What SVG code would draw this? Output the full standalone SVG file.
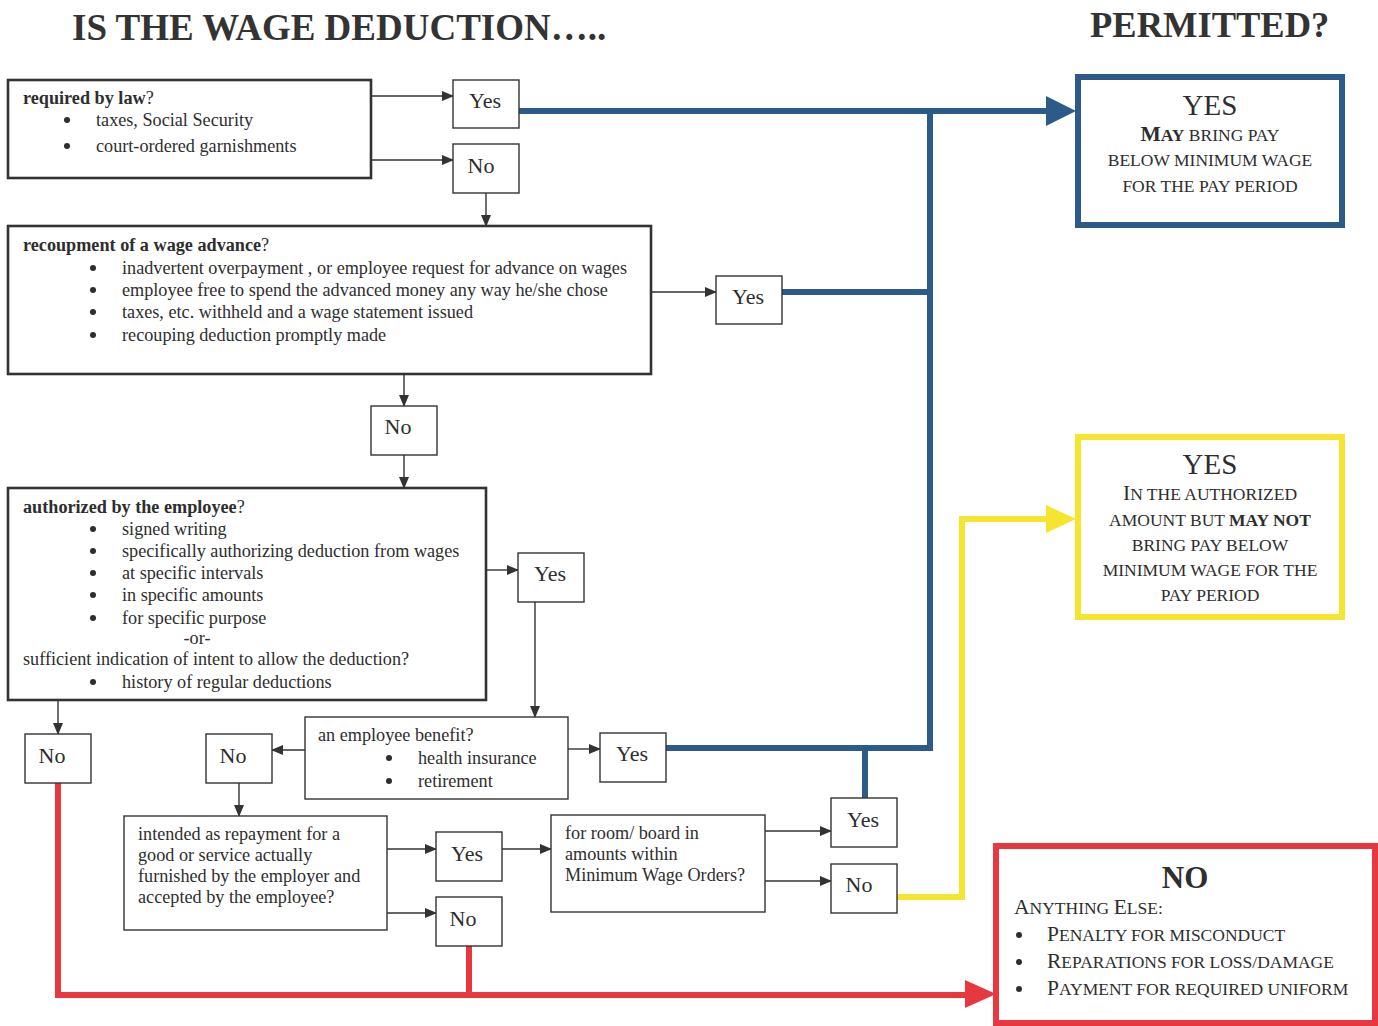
<svg xmlns="http://www.w3.org/2000/svg" width="1378" height="1026" viewBox="0 0 1378 1026">
<defs>
<style>
text{font-family:"Liberation Serif","Times New Roman",serif;fill:#2e2e2e}
.t{font-size:18.2px}
.b{font-weight:bold}
.yn{font-size:22px;text-anchor:middle}
.title{font-size:36.5px;font-weight:bold;fill:#333}
.box{fill:#fff;stroke:#333;stroke-width:2.6}
.sbox{fill:#fff;stroke:#333;stroke-width:1.4}
.con{fill:none;stroke:#333;stroke-width:1.4}
.blue{fill:none;stroke:#2c5b8a;stroke-width:6}
.yel{fill:none;stroke:#f6e52e;stroke-width:6}
.red{fill:none;stroke:#e8383f;stroke-width:6}
.sc{font-size:17.5px}
.mid{text-anchor:middle}
.cap{font-size:21.5px}
.big{font-size:29px;text-anchor:middle}
.dot{fill:#2e2e2e}
</style>
<marker id="ah" markerWidth="12" markerHeight="10" refX="11" refY="5" orient="auto" markerUnits="userSpaceOnUse">
<path d="M0,0 L12,5 L0,10 Z" fill="#333"/>
</marker>
</defs>
<rect width="1378" height="1026" fill="#fff"/>
<text class="title" x="72" y="40" style="font-size:37px">IS THE WAGE DEDUCTION…..</text>
<text class="title" x="1090" y="37">PERMITTED?</text>

<g id="connectors">
<path class="con" d="M371,96 H453" marker-end="url(#ah)"/>
<path class="con" d="M371,160 H453" marker-end="url(#ah)"/>
<path class="con" d="M486,193 V226" marker-end="url(#ah)"/>
<path class="con" d="M651,292 H716" marker-end="url(#ah)"/>
<path class="con" d="M404,374 V406" marker-end="url(#ah)"/>
<path class="con" d="M404,455 V488" marker-end="url(#ah)"/>
<path class="con" d="M486,570 H518" marker-end="url(#ah)"/>
<path class="con" d="M535,602 V717" marker-end="url(#ah)"/>
<path class="con" d="M58,700 V734" marker-end="url(#ah)"/>
<path class="con" d="M568,749 H600" marker-end="url(#ah)"/>
<path class="con" d="M305,750 H272" marker-end="url(#ah)"/>
<path class="con" d="M239,783 V816" marker-end="url(#ah)"/>
<path class="con" d="M387,849 H436" marker-end="url(#ah)"/>
<path class="con" d="M387,913 H436" marker-end="url(#ah)"/>
<path class="con" d="M502,849 H551" marker-end="url(#ah)"/>
<path class="con" d="M765,831 H831" marker-end="url(#ah)"/>
<path class="con" d="M765,881 H831" marker-end="url(#ah)"/>
<path class="blue" d="M519,111 H1050"/>
<polygon points="1046,96 1076,111 1046,126" fill="#2c5b8a"/>
<path class="blue" d="M930,111 V748"/>
<path class="blue" d="M782,292 H930"/>
<path class="blue" d="M666,748 H933"/>
<path class="blue" d="M865,798 V748"/>
<path class="yel" d="M897,897 H962 V519 H1050"/>
<polygon points="1046,505 1076,519 1046,533" fill="#f6e52e"/>
<path class="red" d="M58,783 V995 H968"/>
<path class="red" d="M469,946 V995"/>
<polygon points="965,980 996,994 965,1008" fill="#e8383f"/>
</g>

<g id="law">
<rect class="box" x="8" y="80" width="363" height="98"/>
<text class="t" x="23" y="104"><tspan class="b">required by law</tspan>?</text>
<circle class="dot" cx="67" cy="120" r="3"/><text class="t" x="96" y="126">taxes, Social Security</text>
<circle class="dot" cx="67" cy="146" r="3"/><text class="t" x="96" y="152">court-ordered garnishments</text>
</g>
<g id="yes1"><rect class="sbox" x="453" y="80" width="66" height="48"/><text class="yn" x="485" y="108">Yes</text></g>
<g id="no1"><rect class="sbox" x="453" y="144" width="66" height="49"/><text class="yn" x="481" y="173">No</text></g>

<g id="advance">
<rect class="box" x="8" y="226" width="643" height="148"/>
<text class="t" x="23" y="251"><tspan class="b">recoupment of a wage advance</tspan>?</text>
<circle class="dot" cx="93" cy="268" r="3"/><text class="t" x="122" y="274">inadvertent overpayment , or employee request for advance on wages</text>
<circle class="dot" cx="93" cy="290" r="3"/><text class="t" x="122" y="296">employee free to spend the advanced money any way he/she chose</text>
<circle class="dot" cx="93" cy="312" r="3"/><text class="t" x="122" y="318">taxes, etc. withheld and a wage statement issued</text>
<circle class="dot" cx="93" cy="335" r="3"/><text class="t" x="122" y="341">recouping deduction promptly made</text>
</g>
<g id="yes2"><rect class="sbox" x="716" y="276" width="66" height="48"/><text class="yn" x="748" y="304">Yes</text></g>
<g id="no2"><rect class="sbox" x="371" y="406" width="66" height="49"/><text class="yn" x="398" y="434">No</text></g>

<g id="authorized">
<rect class="box" x="8" y="488" width="478" height="212"/>
<text class="t" x="23" y="513"><tspan class="b">authorized by the employee</tspan>?</text>
<circle class="dot" cx="93" cy="529" r="3"/><text class="t" x="122" y="535">signed writing</text>
<circle class="dot" cx="93" cy="551" r="3"/><text class="t" x="122" y="557">specifically authorizing deduction from wages</text>
<circle class="dot" cx="93" cy="573" r="3"/><text class="t" x="122" y="579">at specific intervals</text>
<circle class="dot" cx="93" cy="595" r="3"/><text class="t" x="122" y="601">in specific amounts</text>
<circle class="dot" cx="93" cy="618" r="3"/><text class="t" x="122" y="624">for specific purpose</text>
<text class="t mid" x="197" y="644">-or-</text>
<text class="t" x="23" y="665">sufficient indication of intent to allow the deduction?</text>
<circle class="dot" cx="93" cy="682" r="3"/><text class="t" x="122" y="688">history of regular deductions</text>
</g>
<g id="yes3"><rect class="sbox" x="518" y="553" width="66" height="49"/><text class="yn" x="550" y="581">Yes</text></g>
<g id="no3"><rect class="sbox" x="25" y="734" width="66" height="49"/><text class="yn" x="52" y="763">No</text></g>

<g id="benefit">
<rect class="sbox" x="305" y="717" width="263" height="82"/>
<text class="t" x="318" y="741">an employee benefit?</text>
<circle class="dot" cx="389" cy="758" r="3"/><text class="t" x="418" y="764">health insurance</text>
<circle class="dot" cx="389" cy="781" r="3"/><text class="t" x="418" y="787">retirement</text>
</g>
<g id="yes4"><rect class="sbox" x="600" y="733" width="66" height="49"/><text class="yn" x="632" y="761">Yes</text></g>
<g id="no4"><rect class="sbox" x="206" y="734" width="66" height="49"/><text class="yn" x="233" y="763">No</text></g>

<g id="repayment">
<rect class="sbox" x="124" y="816" width="263" height="114"/>
<text class="t" x="138" y="840">intended as repayment for a</text>
<text class="t" x="138" y="861">good or service actually</text>
<text class="t" x="138" y="882">furnished by the employer and</text>
<text class="t" x="138" y="903">accepted by the employee?</text>
</g>
<g id="yes5"><rect class="sbox" x="436" y="832" width="66" height="49"/><text class="yn" x="467" y="861">Yes</text></g>
<g id="no5"><rect class="sbox" x="436" y="897" width="66" height="49"/><text class="yn" x="463" y="926">No</text></g>

<g id="roomboard">
<rect class="sbox" x="551" y="815" width="214" height="97"/>
<text class="t" x="565" y="839">for room/ board in</text>
<text class="t" x="565" y="860">amounts within</text>
<text class="t" x="565" y="881">Minimum Wage Orders?</text>
</g>
<g id="yes6"><rect class="sbox" x="831" y="798" width="66" height="49"/><text class="yn" x="863" y="827">Yes</text></g>
<g id="no6"><rect class="sbox" x="831" y="864" width="66" height="49"/><text class="yn" x="859" y="892">No</text></g>

<g id="result-yes">
<rect x="1078" y="77" width="264" height="148" fill="#fff" stroke="#2c5b8a" stroke-width="6"/>
<text class="big" x="1210" y="115">YES</text>
<text class="sc mid" x="1210" y="141"><tspan class="b cap">M</tspan><tspan class="b">AY</tspan> BRING PAY</text>
<text class="sc mid" x="1210" y="166">BELOW MINIMUM WAGE</text>
<text class="sc mid" x="1210" y="192">FOR THE PAY PERIOD</text>
</g>

<g id="result-authorized">
<rect x="1078" y="437" width="264" height="180" fill="#fff" stroke="#f6e52e" stroke-width="6"/>
<text class="big" x="1210" y="474">YES</text>
<text class="sc mid" x="1210" y="500"><tspan class="cap">I</tspan>N THE AUTHORIZED</text>
<text class="sc mid" x="1210" y="526">AMOUNT BUT <tspan class="b">MAY NOT</tspan></text>
<text class="sc mid" x="1210" y="551">BRING PAY BELOW</text>
<text class="sc mid" x="1210" y="576">MINIMUM WAGE FOR THE</text>
<text class="sc mid" x="1210" y="601">PAY PERIOD</text>
</g>

<g id="result-no">
<rect x="996" y="846" width="379" height="177" fill="#fff" stroke="#e8383f" stroke-width="6"/>
<text class="big b" x="1185" y="888" style="font-size:31px">NO</text>
<text class="sc" x="1014" y="914"><tspan class="cap">A</tspan>NYTHING <tspan class="cap">E</tspan>LSE:</text>
<circle class="dot" cx="1019" cy="935" r="3"/><text class="sc" x="1047" y="941"><tspan class="cap">P</tspan>ENALTY FOR MISCONDUCT</text>
<circle class="dot" cx="1019" cy="962" r="3"/><text class="sc" x="1047" y="968"><tspan class="cap">R</tspan>EPARATIONS FOR LOSS/DAMAGE</text>
<circle class="dot" cx="1019" cy="989" r="3"/><text class="sc" x="1047" y="995"><tspan class="cap">P</tspan>AYMENT FOR REQUIRED UNIFORM</text>
</g>
</svg>
